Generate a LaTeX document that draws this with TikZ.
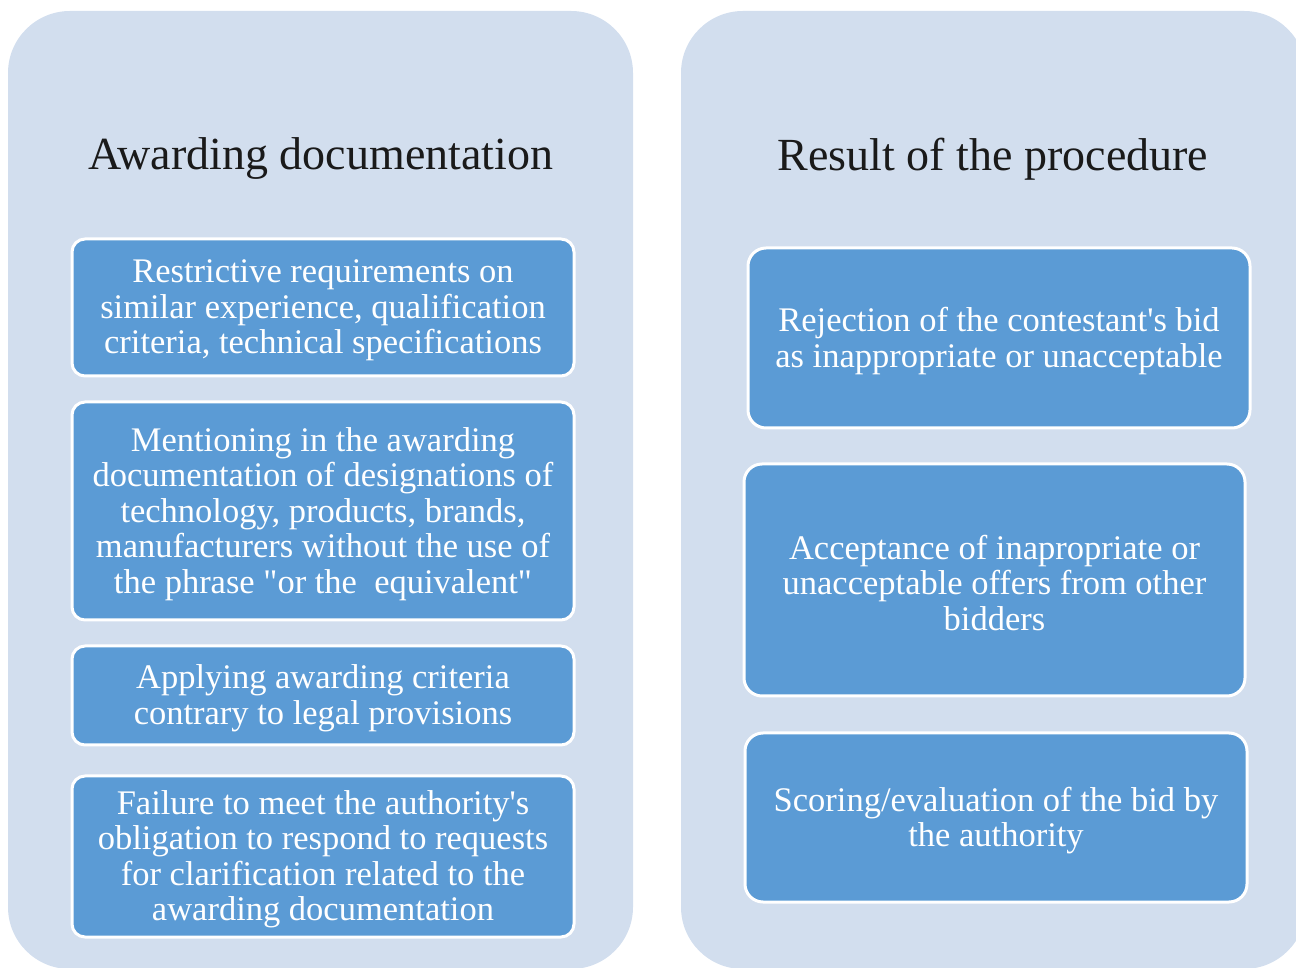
\documentclass[tikz,border=0pt]{standalone}
\usepackage{fontspec}
\newfontfamily\ser{Liberation Serif}
\definecolor{panelfill}{RGB}{210,222,238}
\definecolor{boxfill}{RGB}{91,155,213}
\definecolor{titlecol}{RGB}{26,26,26}
\tikzset{
  panel/.style={fill=panelfill, draw=none, rounded corners=62pt},
  paneltitle/.style={font=\ser\fontsize{46}{54}\selectfont, text=titlecol, inner sep=0pt, align=center},
  itemtext/.style={text=white, align=center, inner sep=0pt, font=\ser\fontsize{34.5}{35.5}\selectfont, yshift=-3pt},
  itembox/.style={draw=white, line width=3pt, fill=boxfill, inner sep=0pt, rounded corners=13pt},
  ritembox/.style={itembox, rounded corners=18pt}
}
\begin{document}
\begin{tikzpicture}[x=1pt,y=1pt]
\useasboundingbox (0,0) rectangle (1296,967);
\clip (0,0) rectangle (1296,967);
% panels
\path[panel] (8,-2) rectangle (633,956);
\path[panel] (681,-2) rectangle (1306,956);
% titles
\node[paneltitle] (lt) at (321,808) {Awarding documentation};
\node[paneltitle] (rt) at (993,808) {Result of the procedure};
% left items
\node[itembox, minimum width=502pt, minimum height=137pt,
  label={[itemtext]center:{Restrictive requirements on\\similar experience, qualification\\criteria, technical specifications}}] (l1) at (323,659.5) {};
\node[itembox, minimum width=502pt, minimum height=218pt,
  label={[itemtext]center:{Mentioning in the awarding\\documentation of designations of\\technology, products, brands,\\manufacturers without the use of\\the phrase "or the\ \ equivalent"}}] (l2) at (323,456) {};
\node[itembox, minimum width=502pt, minimum height=99pt,
  label={[itemtext]center:{Applying awarding criteria\\contrary to legal provisions}}] (l3) at (323,271.5) {};
\node[itembox, minimum width=502pt, minimum height=161pt,
  label={[itemtext]center:{Failure to meet the authority's\\obligation to respond to requests\\for clarification related to the\\awarding documentation}}] (l4) at (323,110.5) {};
% right items
\node[ritembox, minimum width=502pt, minimum height=180pt,
  label={[itemtext]center:{Rejection of the contestant's bid\\as inappropriate or unacceptable}}] (r1) at (999,629) {};
\node[ritembox, minimum width=501pt, minimum height=232pt,
  label={[itemtext]center:{Acceptance of inapropriate or\\unacceptable offers from other\\bidders}}] (r2) at (994.5,387) {};
\node[ritembox, minimum width=502pt, minimum height=169pt,
  label={[itemtext]center:{Scoring/evaluation of the bid by\\the authority}}] (r3) at (996,149.5) {};
\end{tikzpicture}
\end{document}
